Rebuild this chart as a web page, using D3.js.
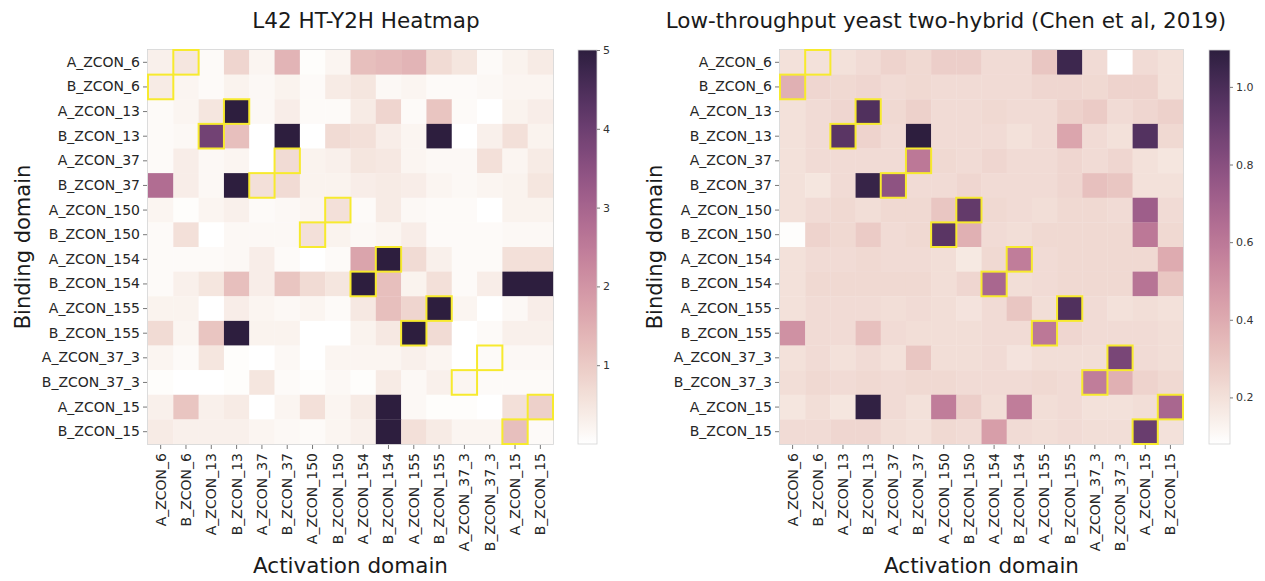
<!DOCTYPE html>
<html>
<head>
<meta charset="utf-8">
<script src="https://cdn.jsdelivr.net/npm/d3@7"></script>
<style>
  body { margin: 0; background: #fff; }
  text { font-family: "DejaVu Sans", sans-serif; }
</style>
</head>
<body>
<svg id="fig" width="1265" height="581"></svg>
<script>
// Construct names, used for both axes (binding domain rows, activation domain columns)
const domains = [
  "A_ZCON_6", "B_ZCON_6", "A_ZCON_13", "B_ZCON_13", "A_ZCON_37", "B_ZCON_37",
  "A_ZCON_150", "B_ZCON_150", "A_ZCON_154", "B_ZCON_154", "A_ZCON_155", "B_ZCON_155",
  "A_ZCON_37_3", "B_ZCON_37_3", "A_ZCON_15", "B_ZCON_15"
];

// L42 HT-Y2H interaction scores (rows: binding domain, cols: activation domain)
const l42Scores = [
  [0.3, 0.5, 0.1, 0.8, 0.2, 1.4, 0.05, 0.2, 1.2, 1.3, 1.4, 0.7, 0.5, 0.1, 0.25, 0.4],
  [0.4, 0.2, 0.1, 0.25, 0.15, 0.25, 0.1, 0.4, 0.5, 0.15, 0.2, 0.1, 0.1, 0.15, 0.2, 0.2],
  [0.1, 0.2, 0.5, 5, 0.15, 0.35, 0.1, 0.1, 0.4, 0.8, 0.1, 1.1, 0.1, 0, 0.25, 0.35],
  [0.1, 0.15, 3.9, 1.2, 0, 5, 0, 0.7, 0.6, 0.35, 0.2, 5, 0, 0.3, 0.6, 0.25],
  [0.1, 0.35, 0.15, 0.2, 0, 0.7, 0.25, 0.3, 0.5, 0.45, 0.2, 0.15, 0.15, 0.6, 0.2, 0.4],
  [2.8, 0.35, 0.15, 5, 0.6, 0.7, 0.25, 0.25, 0.35, 0.4, 0.35, 0.2, 0.15, 0.2, 0.25, 0.5],
  [0.2, 0.05, 0.2, 0.3, 0.1, 0.15, 0.2, 0.6, 0.1, 0.4, 0.15, 0.1, 0.1, 0, 0.25, 0.25],
  [0.1, 0.6, 0, 0.15, 0.15, 0.15, 0.6, 0.25, 0.15, 0.2, 0.35, 0.1, 0.1, 0.1, 0.15, 0.15],
  [0.1, 0.1, 0.1, 0.15, 0.35, 0.1, 0, 0.1, 1.7, 5, 0.7, 0.3, 0.1, 0.1, 0.6, 0.6],
  [0.1, 0.3, 0.5, 1.2, 0.35, 1.1, 0.7, 0.5, 5, 1.2, 0.25, 0.6, 0.1, 0.35, 5, 5],
  [0.25, 0.25, 0, 0.35, 0.2, 0.15, 0.2, 0.1, 0.45, 1.2, 0.8, 5, 0.2, 0, 0.15, 0.35],
  [0.7, 0.2, 1.1, 5, 0.25, 0.25, 0, 0, 0.25, 0.45, 5, 0.7, 0, 0.1, 0.3, 0.3],
  [0.2, 0.1, 0.5, 0.05, 0, 0.15, 0, 0.2, 0.2, 0.2, 0.3, 0.2, 0, 0.1, 0.15, 0.15],
  [0.05, 0, 0, 0.05, 0.5, 0.1, 0.05, 0.15, 0.05, 0.4, 0.15, 0.3, 0.2, 0.1, 0.1, 0.1],
  [0.3, 1.1, 0.3, 0.4, 0, 0.2, 0.6, 0.2, 0.4, 5, 0.15, 0.05, 0.05, 0, 0.6, 0.9],
  [0.4, 0.3, 0.3, 0.3, 0.2, 0.15, 0.1, 0.2, 0.3, 5, 0.6, 0.4, 0.2, 0.2, 1.2, 0.1]
];

// Low-throughput Y2H scores (Chen et al, 2019)
const chenScores = [
  [0.2, 0.2, 0.2, 0.22, 0.25, 0.23, 0.27, 0.27, 0.22, 0.22, 0.3, 1.04, 0.22, 0.08, 0.22, 0.2],
  [0.38, 0.24, 0.23, 0.24, 0.22, 0.23, 0.22, 0.22, 0.22, 0.22, 0.24, 0.24, 0.23, 0.25, 0.25, 0.2],
  [0.2, 0.22, 0.24, 0.98, 0.23, 0.26, 0.22, 0.22, 0.23, 0.22, 0.22, 0.26, 0.28, 0.22, 0.24, 0.26],
  [0.2, 0.22, 0.95, 0.25, 0.22, 1.095, 0.22, 0.22, 0.22, 0.2, 0.22, 0.42, 0.22, 0.2, 0.97, 0.23],
  [0.2, 0.22, 0.22, 0.22, 0.22, 0.6, 0.23, 0.22, 0.24, 0.22, 0.22, 0.24, 0.22, 0.24, 0.2, 0.18],
  [0.2, 0.18, 0.22, 1.06, 0.78, 0.22, 0.22, 0.24, 0.22, 0.22, 0.22, 0.24, 0.32, 0.3, 0.2, 0.2],
  [0.2, 0.22, 0.23, 0.21, 0.23, 0.23, 0.3, 0.92, 0.23, 0.22, 0.21, 0.23, 0.23, 0.22, 0.72, 0.22],
  [0.09, 0.25, 0.23, 0.28, 0.22, 0.23, 0.95, 0.38, 0.22, 0.21, 0.23, 0.23, 0.23, 0.23, 0.6, 0.23],
  [0.2, 0.22, 0.22, 0.23, 0.22, 0.22, 0.21, 0.17, 0.23, 0.58, 0.22, 0.23, 0.23, 0.23, 0.23, 0.4],
  [0.2, 0.23, 0.23, 0.23, 0.23, 0.23, 0.21, 0.24, 0.68, 0.21, 0.22, 0.23, 0.23, 0.23, 0.62, 0.3],
  [0.2, 0.22, 0.22, 0.22, 0.21, 0.22, 0.21, 0.19, 0.22, 0.3, 0.21, 0.98, 0.22, 0.2, 0.21, 0.2],
  [0.5, 0.22, 0.22, 0.32, 0.22, 0.21, 0.21, 0.21, 0.22, 0.22, 0.6, 0.24, 0.22, 0.22, 0.22, 0.21],
  [0.2, 0.22, 0.2, 0.22, 0.2, 0.3, 0.21, 0.21, 0.22, 0.19, 0.21, 0.21, 0.21, 0.85, 0.22, 0.21],
  [0.21, 0.23, 0.22, 0.23, 0.22, 0.23, 0.23, 0.22, 0.22, 0.22, 0.23, 0.22, 0.58, 0.38, 0.25, 0.23],
  [0.18, 0.21, 0.18, 1.08, 0.22, 0.2, 0.58, 0.27, 0.21, 0.58, 0.21, 0.22, 0.2, 0.2, 0.21, 0.68],
  [0.22, 0.22, 0.24, 0.24, 0.21, 0.2, 0.23, 0.22, 0.45, 0.22, 0.21, 0.22, 0.21, 0.21, 0.9, 0.2]
];

// Designed cognate pairs, outlined on both maps: [row index, column index]
const cognatePairs = [
  [0, 1], [1, 0], [2, 3], [3, 2], [4, 5], [5, 4], [6, 7], [7, 6],
  [8, 9], [9, 8], [10, 11], [11, 10], [12, 13], [13, 12], [14, 15], [15, 14]
];

// Colour bar ranges and ticks
const l42Range = [0, 5];
const l42Ticks = [1, 2, 3, 4, 5];
const chenRange = [0.08, 1.095];
const chenTicks = [0.2, 0.4, 0.6, 0.8, 1.0];

// Seaborn-style cubehelix palette: light at low values, dark at high values
function cubehelixRGB(x, start = 0, rot = 0.4, gamma = 1, hue = 0.8) {
  const xg = Math.pow(x, gamma);
  const a = hue * xg * (1 - xg) / 2;
  const phi = 2 * Math.PI * (start / 3 + rot * x);
  const c = Math.cos(phi), s = Math.sin(phi);
  const clamp = v => Math.max(0, Math.min(1, v));
  const r = clamp(xg + a * (-0.14861 * c + 1.78277 * s));
  const g = clamp(xg + a * (-0.29227 * c - 0.90649 * s));
  const b = clamp(xg + a * (1.97294 * c));
  return d3.rgb(r * 255, g * 255, b * 255);
}
function makeColor(range, light = 1.0, dark = 0.15) {
  const t = d3.scaleLinear().domain(range).range([light, dark]).clamp(true);
  return v => cubehelixRGB(t(v)).formatHex();
}

const svg = d3.select("#fig");
svg.append("rect").attr("width", 1265).attr("height", 581).attr("fill", "#fff");

function drawPanel(cfg) {
  const g = svg.append("g");
  const x = d3.scaleBand().domain(d3.range(domains.length)).range([cfg.x0, cfg.x1]);
  const y = d3.scaleBand().domain(d3.range(domains.length)).range([cfg.y0, cfg.y1]);
  const color = makeColor(cfg.range);

  // cells
  const cells = [];
  cfg.values.forEach((row, i) => row.forEach((v, j) => cells.push({ i, j, v })));
  g.selectAll("rect.cell").data(cells).join("rect")
    .attr("class", "cell")
    .attr("x", d => x(d.j)).attr("y", d => y(d.i))
    .attr("width", x.bandwidth() + 0.3).attr("height", y.bandwidth() + 0.3)
    .attr("fill", d => color(d.v));

  // light frame
  g.append("rect")
    .attr("x", cfg.x0 - 0.5).attr("y", cfg.y0 - 0.5)
    .attr("width", cfg.x1 - cfg.x0 + 1).attr("height", cfg.y1 - cfg.y0 + 1)
    .attr("fill", "none").attr("stroke", "#d4d4d4").attr("stroke-width", 0.8);

  // cognate pair outlines
  g.selectAll("rect.pair").data(cognatePairs).join("rect")
    .attr("class", "pair")
    .attr("x", d => x(d[1])).attr("y", d => y(d[0]))
    .attr("width", x.bandwidth()).attr("height", y.bandwidth())
    .attr("fill", "none").attr("stroke", "#f7ea2e").attr("stroke-width", 2);

  // y axis
  const yAxis = g.append("g").attr("transform", `translate(${cfg.x0 - 1},0)`)
    .call(d3.axisLeft(y).tickSize(4).tickPadding(3).tickFormat(i => domains[i]));
  yAxis.select(".domain").remove();
  yAxis.selectAll("line").attr("stroke", "#555").attr("stroke-width", 0.8);
  yAxis.selectAll("text").attr("font-size", 14).attr("fill", "#262626")
    .attr("font-family", "DejaVu Sans");

  // x axis with vertical labels
  const xAxis = g.append("g").attr("transform", `translate(0,${cfg.y1 + 1})`)
    .call(d3.axisBottom(x).tickSize(4).tickFormat(i => domains[i]));
  xAxis.select(".domain").remove();
  xAxis.selectAll("line").attr("stroke", "#555").attr("stroke-width", 0.8);
  xAxis.selectAll("text")
    .attr("transform", "rotate(-90)")
    .attr("x", -8).attr("y", 0).attr("dy", "0.35em")
    .style("text-anchor", "end")
    .attr("font-size", 14).attr("fill", "#262626").attr("font-family", "DejaVu Sans");

  // axis titles
  g.append("text")
    .attr("x", (cfg.x0 + cfg.x1) / 2).attr("y", 573)
    .attr("text-anchor", "middle").attr("font-size", 21.5).attr("fill", "#1a1a1a")
    .text("Activation domain");
  g.append("text")
    .attr("transform", `translate(${cfg.yLabelX},${(cfg.y0 + cfg.y1) / 2}) rotate(-90)`)
    .attr("text-anchor", "middle").attr("font-size", 21).attr("fill", "#1a1a1a")
    .text("Binding domain");

  // panel title
  g.append("text")
    .attr("x", cfg.titleX).attr("y", 28)
    .attr("text-anchor", "middle").attr("font-size", 21.5).attr("fill", "#1a1a1a")
    .text(cfg.title);

  // colour bar
  const cb = d3.scaleLinear().domain(cfg.range).range([cfg.y1, cfg.y0]);
  const gradId = "grad-" + cfg.id;
  const grad = svg.append("defs").append("linearGradient").attr("id", gradId)
    .attr("x1", 0).attr("y1", 1).attr("x2", 0).attr("y2", 0);
  d3.range(0, 1.0001, 1 / 64).forEach(t => {
    grad.append("stop").attr("offset", t)
      .attr("stop-color", color(cfg.range[0] + t * (cfg.range[1] - cfg.range[0])));
  });
  g.append("rect")
    .attr("x", cfg.cbX).attr("y", cfg.y0).attr("width", cfg.cbW).attr("height", cfg.y1 - cfg.y0)
    .attr("fill", `url(#${gradId})`).attr("stroke", "#d4d4d4").attr("stroke-width", 0.8);
  const cbAxis = g.append("g").attr("transform", `translate(${cfg.cbX + cfg.cbW},0)`)
    .call(d3.axisRight(cb).tickValues(cfg.ticks).tickSize(3).tickPadding(3)
      .tickFormat(cfg.tickFormat));
  cbAxis.select(".domain").remove();
  cbAxis.selectAll("line").attr("stroke", "#555").attr("stroke-width", 0.8);
  cbAxis.selectAll("text").attr("font-size", 11).attr("fill", "#333")
    .attr("font-family", "DejaVu Sans");
}

drawPanel({
  id: "l42", values: l42Scores, range: l42Range, ticks: l42Ticks, tickFormat: d3.format("d"),
  x0: 148, x1: 553, y0: 50, y1: 444, cbX: 578, cbW: 19, yLabelX: 30, titleX: 366,
  title: "L42 HT-Y2H Heatmap"
});
drawPanel({
  id: "chen", values: chenScores, range: chenRange, ticks: chenTicks, tickFormat: d3.format(".1f"),
  x0: 780, x1: 1183, y0: 50, y1: 444, cbX: 1209, cbW: 21, yLabelX: 662, titleX: 946,
  title: "Low-throughput yeast two-hybrid (Chen et al, 2019)"
});
</script>
</body>
</html>
